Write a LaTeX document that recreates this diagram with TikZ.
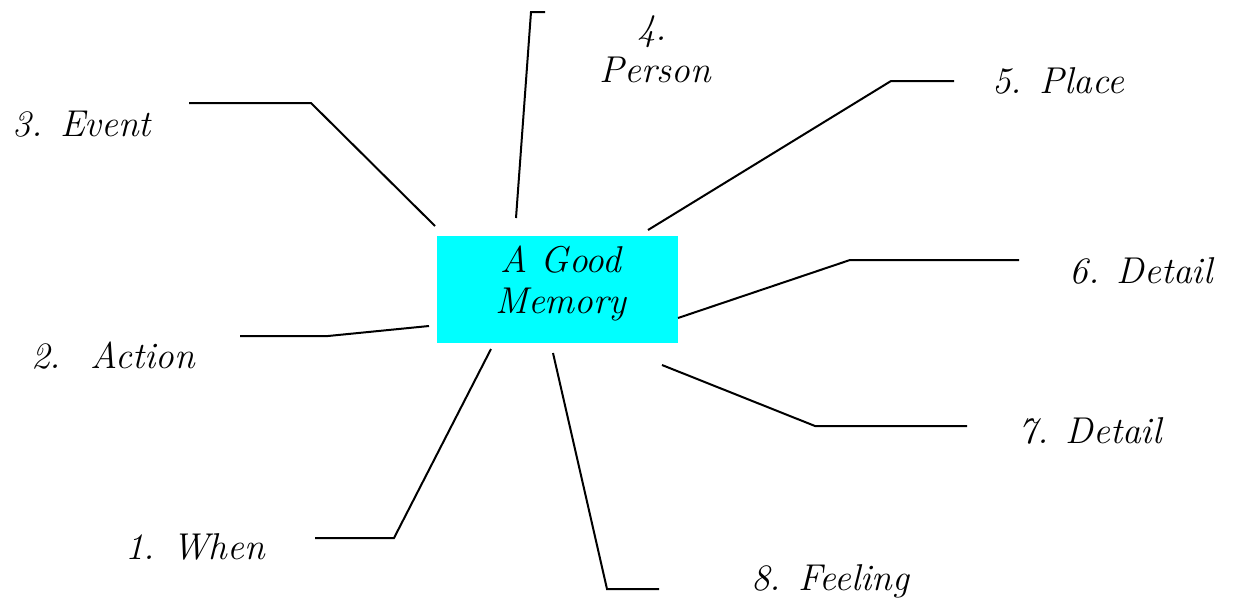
\documentclass[tikz,border=0pt]{standalone}
\definecolor{boxcyan}{RGB}{0,255,255}
\begin{document}
\begin{tikzpicture}[x=0.75pt,y=-0.75pt,
  lbl/.style={font=\fontsize{28}{30}\selectfont\itshape, inner sep=0pt, anchor=base},
  conn/.style={line width=1.5pt, line join=miter}]
\useasboundingbox (0,0) rectangle (1234,603);
% central box
\node (box) [fill=boxcyan, minimum width=180.75pt, minimum height=80.25pt, inner sep=0pt] at (557.5,289.5) {};
\node (boxtop) [lbl] at (561,272) {A Good};
\node (boxbot) [lbl] at (561,313) {Memory};
% labels
\node (event) [lbl] at (82,136) {3. Event};
\node (action) [lbl] at (113,368) {2.\hspace{22pt}Action};
\node (when) [lbl] at (195,559) {1. When};
\node (feeling) [lbl] at (830,590) {8. Feeling};
\node (det7) [lbl] at (1090,443) {7. Detail};
\node (det6) [lbl] at (1141,283) {6. Detail};
\node (place) [lbl] at (1058,93) {5. Place};
\node (person4) [lbl] at (652,40) {4.};
\node (person) [lbl] at (655,82) {Person};
% connector points
\coordinate (e0) at (435,226); \coordinate (e1) at (311,103); \coordinate (e2) at (189,103);
\coordinate (a0) at (429,326); \coordinate (a1) at (328,336); \coordinate (a2) at (240,336);
\coordinate (w0) at (491,349); \coordinate (w1) at (394,538); \coordinate (w2) at (315,538);
\coordinate (f0) at (553,353); \coordinate (f1) at (607,589); \coordinate (f2) at (659,589);
\coordinate (s0) at (662,365); \coordinate (s1) at (815,426); \coordinate (s2) at (967,426);
\coordinate (d0) at (678,318); \coordinate (d1) at (850,260); \coordinate (d2) at (1019,260);
\coordinate (p0) at (648,230); \coordinate (p1) at (891,81); \coordinate (p2) at (954,81);
\coordinate (r0) at (516,218); \coordinate (r1) at (531,12); \coordinate (r2) at (545,12);
% connectors
\draw[conn] (e0) -- (e1) -- (e2);
\draw[conn] (a0) -- (a1) -- (a2);
\draw[conn] (w0) -- (w1) -- (w2);
\draw[conn] (f0) -- (f1) -- (f2);
\draw[conn] (s0) -- (s1) -- (s2);
\draw[conn] (d0) -- (d1) -- (d2);
\draw[conn] (p0) -- (p1) -- (p2);
\draw[conn] (r0) -- (r1) -- (r2);
\end{tikzpicture}
\end{document}
